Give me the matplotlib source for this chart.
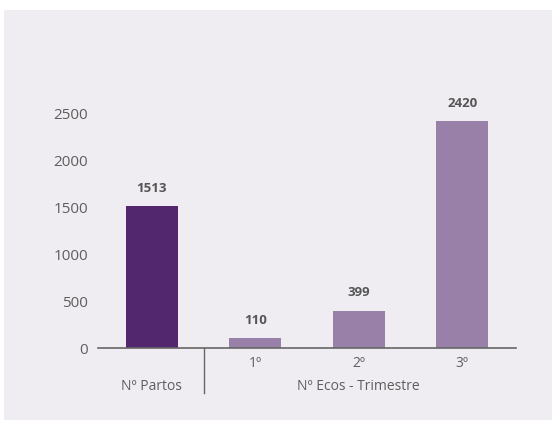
import matplotlib.pyplot as plt
from matplotlib.patches import Rectangle
from matplotlib.lines import Line2D

plt.rcParams['font.family'] = ['Open Sans', 'DejaVu Sans']

# data
categories = ['', '1º', '2º', '3º']
values = [1513, 110, 399, 2420]
groups = ['Nº Partos', 'Nº Ecos - Trimestre']
group_spans = [(0, 0), (1, 3)]
colors = ['#53276e', '#9880a8', '#9880a8', '#9880a8']

bg = '#efedf2'
text_col = '#555555'

fig = plt.figure(figsize=(5.52, 4.21), dpi=100)
fig.patch.set_facecolor('white')
fig.patches.append(Rectangle((4 / 552, 1 - 420 / 421), 548 / 552, 410 / 421,
                             transform=fig.transFigure, facecolor=bg,
                             edgecolor='none', zorder=-10))

ax = fig.add_axes([98 / 552, 73 / 421, 418 / 552, 263 / 421])
ax.set_facecolor(bg)
x = range(len(values))
ax.bar(x, values, width=0.5, color=colors, zorder=2)

for xi, v in zip(x, values):
    ax.annotate(str(v), (xi, v), xytext=(0, 8), textcoords='offset points',
                ha='center', va='bottom', fontsize=9.5, fontweight='bold',
                color=text_col)

ax.set_xlim(-0.52, 3.52)
ax.set_ylim(0, 2800)
ax.set_yticks([0, 500, 1000, 1500, 2000, 2500])
ax.set_xticks(list(x))
ax.set_xticklabels(categories)
ax.tick_params(axis='y', length=0, pad=7, labelsize=11, labelcolor='#5e5e5e')
ax.tick_params(axis='x', length=0, pad=6, labelsize=10, labelcolor='#5e5e5e')

for s in ['top', 'right', 'left']:
    ax.spines[s].set_visible(False)
ax.spines['bottom'].set_color('#666666')
ax.spines['bottom'].set_linewidth(1.2)

# group labels below the tick labels
for name, (a, b) in zip(groups, group_spans):
    ax.text((a + b) / 2, -0.145, name, transform=ax.get_xaxis_transform(),
            ha='center', va='center', fontsize=10, color='#5e5e5e')

# separator between groups
ax.add_line(Line2D([0.5, 0.5], [0, -0.17], transform=ax.get_xaxis_transform(),
                   color='#666666', linewidth=1.0, clip_on=False))

fig.savefig('out.png', dpi=100, facecolor=fig.get_facecolor())
